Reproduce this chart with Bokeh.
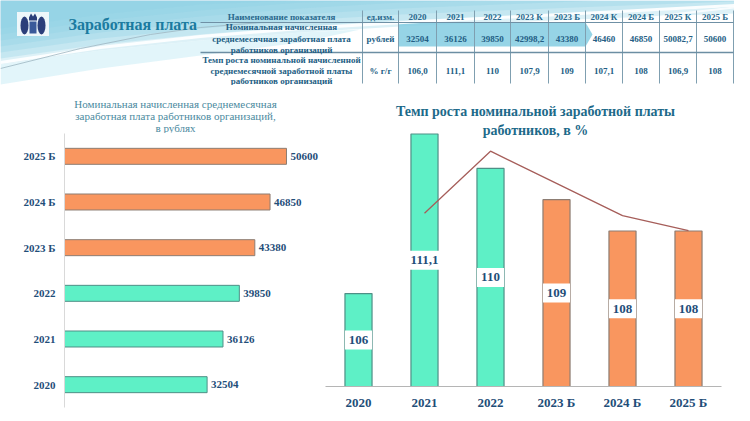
from bokeh.plotting import figure
from bokeh.models import Range1d, FactorRange, ColumnDataSource, LabelSet
from bokeh.layouts import column, row
from bokeh.embed import file_html
from bokeh.resources import INLINE
from bokeh.core.properties import value

# ---------------- data ----------------
table_cols = ["2020", "2021", "2022", "2023 К", "2023 Б", "2024 К", "2024 Б", "2025 К", "2025 Б"]
table_wage = ["32504", "36126", "39850", "42998,2", "43380", "46460", "46850", "50082,7", "50600"]
table_growth = ["106,0", "111,1", "110", "107,9", "109", "107,1", "108", "106,9", "108"]

wage_cats = ["2020", "2021", "2022", "2023 Б", "2024 Б", "2025 Б"]
wage_values = [32504, 36126, 39850, 43380, 46850, 50600]

growth_cats = ["2020", "2021", "2022", "2023 Б", "2024 Б", "2025 Б"]
growth_values = [106, 111.1, 110, 109, 108, 108]
growth_labels = ["106", "111,1", "110", "109", "108", "108"]

trend_cats = ["2021", "2022", "2023 Б", "2024 Б", "2025 Б"]
trend_values = [108.57, 110.55, 109.52, 108.49, 108.01]

# ---------------- style ----------------
SERIF = "'Liberation Serif', 'Times New Roman', serif"
NAVY = "#1f4e79"
MINT = "#5ef0c6"
ORANGE = "#f9965f"
MINT_EDGE = "#4f8f86"
ORANGE_EDGE = "#8d7d73"
bar_colors = [MINT, MINT, MINT, ORANGE, ORANGE, ORANGE]
edge_colors = [MINT_EDGE, MINT_EDGE, MINT_EDGE, ORANGE_EDGE, ORANGE_EDGE, ORANGE_EDGE]


def blank(w, h, xr, yr, **kw):
    f = figure(width=w, height=h, x_range=xr, y_range=yr, x_axis_type=None,
               y_axis_type=None, toolbar_location=None, output_backend="svg",
               min_border=0, **kw)
    f.outline_line_color = None
    return f


# ---------------- header ----------------
hdr = blank(734, 85, Range1d(0, 734), Range1d(85, 0))

wx = [0, 100, 200, 300, 400, 500, 600, 734]
wb = [64, 50, 40, 32, 26, 22, 18, 13]
for k in range(7):
    low = [max(0, b - k * 6) for b in wb]
    hdr.patch(wx + [734, 0], low + [0, 0], fill_color="#8ed2e4",
              fill_alpha=0.3, line_color=None)
hdr.patch([0, 100, 200, 300, 360, 300, 200, 100, 0],
          [64, 50, 40, 32, 29, 42, 55, 68, 84],
          fill_color="#cfeef6", fill_alpha=0.6, line_color=None)
hdr.patch([398, 585, 592, 585, 398], [22, 22, 34, 46, 46],
          fill_color="#84cde2", fill_alpha=0.85, line_color=None)
hdr.line([0, 100, 200, 300, 420, 560, 734], [62, 47, 36, 28, 21, 14, 5],
         line_color="white", line_width=3, line_alpha=0.9)
hdr.line([0, 80, 150, 200, 260], [68, 48, 34, 27, 22],
         line_color="#9fb6c2", line_width=1, line_alpha=0.8)
hdr.line([620, 680, 734], [22, 13, 7], line_color="white", line_width=2, line_alpha=0.8)

# emblem
hdr.rect(x=[32.5], y=[23.5], width=32, height=24, fill_color="#eef7fa", line_color=None)
hdr.ellipse(x=[24, 41], y=[25, 25], width=8, height=18, fill_color="#2b3f7a", line_color=None)
hdr.rect(x=[32.5], y=[27], width=7, height=12, fill_color="#3a5a9a", line_color=None)
hdr.patch([28.5, 30.5, 32.5, 34.5, 36.5, 36.5, 28.5], [17, 13, 16, 13, 17, 20, 20],
          fill_color="#2b3f7a", line_color=None)

hdr.text(x=[68], y=[24], text=["Заработная плата"], text_font=value(SERIF),
         text_font_size="16px", text_font_style="bold", text_color="#1b7ba0",
         text_align="left", text_baseline="middle")

# table grid
seps = [362, 398, 436, 474, 510, 548, 585, 622, 659, 696, 733]
centers = [(a + b) / 2 for a, b in zip(seps[1:-1], seps[2:])]
hdr.segment(x0=seps, y0=[10] * len(seps), x1=seps, y1=[83] * len(seps),
            line_color="#7f9fb0", line_width=1)
hdr.segment(x0=[200, 200], y0=[22, 52], x1=[733, 733], y1=[22, 52],
            line_color=["#6f90a5", "#6c8ea3"], line_width=[1, 1.6])

TBL = "#235e84"
tkw = dict(text_font=value(SERIF), text_font_size="9px", text_font_style="bold",
           text_align="center", text_baseline="middle")
hdr.text(x=[281, 380] + centers, y=[16] * (2 + len(centers)),
         text=["Наименование показателя", "ед.изм."] + table_cols,
         text_color="#2a6a8e", **tkw)
hdr.text(x=[281] * 3, y=[26, 38, 49],
         text=["Номинальная начисленная", "среднемесячная заработная плата",
               "работников организаций"], text_color=TBL, **tkw)
hdr.text(x=[380] + centers, y=[38] * (1 + len(centers)),
         text=["рублей"] + table_wage, text_color=TBL, **tkw)
hdr.text(x=[281] * 3, y=[59, 70, 80],
         text=["Темп роста номинальной начисленной", "среднемесячной заработной платы",
               "работников организаций"], text_color=TBL, **tkw)
hdr.text(x=[380] + centers, y=[70] * (1 + len(centers)),
         text=["% г/г"] + table_growth, text_color=TBL, **tkw)

# ---------------- left title ----------------
# its frame is aligned with the left chart frame (starts at x = 64)
lt = blank(325, 48, Range1d(64, 325), Range1d(133, 85), min_border_left=64)
lt.text(x=[175] * 3, y=[103, 115.5, 127],
        text=["Номинальная начисленная среднемесячная",
              "заработная плата работников организаций,", "в рублях"],
        text_font=value(SERIF), text_font_size="11px", text_color="#4b8aa0",
        text_align="center", text_baseline="middle")

# ---------------- left chart ----------------
lc = figure(width=325, height=280, y_range=FactorRange(factors=wage_cats),
            x_range=Range1d(0, 59490), x_axis_type=None, toolbar_location=None,
            output_backend="svg", min_border_left=64, min_border_right=0,
            min_border_top=0, min_border_bottom=6)
lc.outline_line_color = None
lc.grid.visible = False
lsrc = ColumnDataSource(dict(cats=wage_cats, values=wage_values,
                             labels=[str(v) for v in wage_values],
                             colors=bar_colors, edges=edge_colors))
lc.hbar(y="cats", left=0, right="values", height=0.35, fill_color="colors",
        line_color="edges", line_width=1, source=lsrc)
lc.add_layout(LabelSet(x="values", y="cats", text="labels", x_offset=4, source=lsrc,
                       text_font=value(SERIF), text_font_size="11px",
                       text_font_style="bold", text_color=NAVY,
                       text_align="left", text_baseline="middle"))
ya = lc.yaxis[0]
ya.axis_line_color = "#d9d9d9"
ya.major_tick_line_color = None
ya.minor_tick_line_color = None
ya.major_tick_out = 0
ya.major_tick_in = 0
ya.major_label_standoff = 9
ya.major_label_text_font = SERIF
ya.major_label_text_font_size = "11px"
ya.major_label_text_font_style = "bold"
ya.major_label_text_color = NAVY

# ---------------- right chart ----------------
Y0 = 103.03
rc = figure(width=409, height=328, x_range=FactorRange(factors=growth_cats),
            y_range=Range1d(Y0, 112.65), y_axis_type=None, toolbar_location=None,
            output_backend="svg", min_border_left=0, min_border_right=13,
            min_border_top=0, min_border_bottom=27)
rc.outline_line_color = None
rc.grid.visible = False
rsrc = ColumnDataSource(dict(cats=growth_cats, values=growth_values,
                             labels=growth_labels,
                             ymid=[(Y0 + v) / 2 for v in growth_values],
                             boxw=[7 * len(s) + 6 for s in growth_labels],
                             colors=bar_colors, edges=edge_colors))
rc.vbar(x="cats", top="values", bottom=Y0, width=0.41, fill_color="colors",
        line_color="edges", line_width=1.2, source=rsrc)
rc.line(x=trend_cats, y=trend_values, line_color="#a65e5a", line_width=1.3)
rc.rect(x="cats", y="ymid", width="boxw", height=19, width_units="screen",
        height_units="screen", fill_color="white", line_color=None, source=rsrc)
rc.text(x="cats", y="ymid", text="labels", source=rsrc,
        text_font=value(SERIF), text_font_size="13px", text_font_style="bold",
        text_color=NAVY, text_align="center", text_baseline="middle")
rc.text(x=["2022", "2022"], y=[111.82, 111.21], x_offset=45,
        text=["Темп роста номинальной заработной платы", "работников, в %"],
        text_font=value(SERIF), text_font_size="14px", text_font_style="bold",
        text_color="#1d6a8a", text_align="center", text_baseline="middle")
xa = rc.xaxis[0]
xa.axis_line_color = "#b5b5b5"
xa.major_tick_line_color = None
xa.minor_tick_line_color = None
xa.major_tick_out = 0
xa.major_tick_in = 0
xa.major_label_standoff = 8
xa.major_label_text_font = SERIF
xa.major_label_text_font_size = "13px"
xa.major_label_text_font_style = "bold"
xa.major_label_text_color = NAVY

layout = column(hdr, row(column(lt, lc), rc))
open("out.html", "w").write(file_html(layout, INLINE))
